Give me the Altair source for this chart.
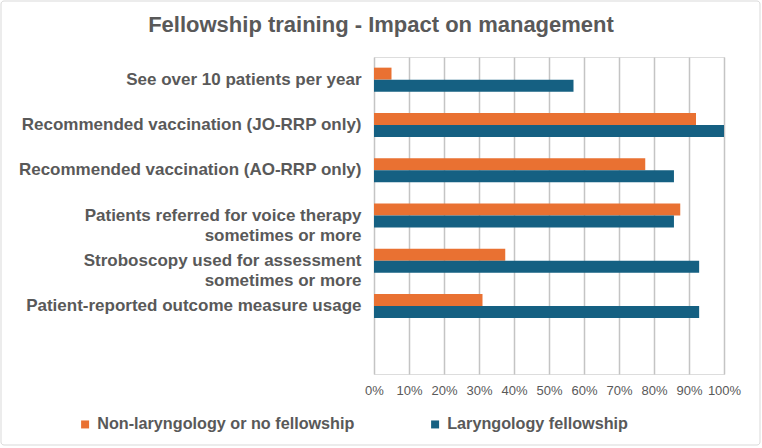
import altair as alt
import pandas as pd

# Survey items (top to bottom); "|" marks a line break in the axis label
categories = [
    "See over 10 patients per year",
    "Recommended vaccination (JO-RRP only)",
    "Recommended vaccination (AO-RRP only)",
    "Patients referred for voice therapy|sometimes or more",
    "Stroboscopy used for assessment|sometimes or more",
    "Patient-reported outcome measure usage",
]
series = ["Non-laryngology or no fellowship", "Laryngology fellowship"]
non_laryngology = [0.05, 0.92, 0.775, 0.875, 0.375, 0.31]
laryngology = [0.57, 1.00, 0.857, 0.857, 0.929, 0.929]
colors = ["#E97132", "#156082"]
x_ticks = [i / 10 for i in range(11)]

rows = []
for cat, a, b in zip(categories, non_laryngology, laryngology):
    rows.append({"item": cat, "group": series[0], "share": a})
    rows.append({"item": cat, "group": series[1], "share": b})
df = pd.DataFrame(rows)

# an empty trailing slot leaves space below the last item, as in the original layout
y_domain = categories + [" "]

FONT = "Liberation Sans"
GREY = "#595959"

bars = alt.Chart(df).mark_bar().encode(
    x=alt.X(
        "share:Q",
        scale=alt.Scale(domain=[0, 1], nice=False),
        axis=alt.Axis(
            values=x_ticks, format=".0%", title=None, domain=False, ticks=False,
            grid=True, gridColor="#c4c4c4", gridWidth=1.5, gridOpacity=1,
            labelFontSize=13, labelColor=GREY, labelPadding=10, labelFont=FONT,
            labelOverlap=False, labelFlush=False,
        ),
    ),
    y=alt.Y(
        "item:N",
        scale=alt.Scale(domain=y_domain, paddingInner=0, paddingOuter=0),
        axis=alt.Axis(
            title=None, domain=False, ticks=False, grid=False,
            labelExpr="split(datum.label, '|')", labelFontSize=17,
            labelFontWeight="bold", labelColor=GREY, labelFont=FONT,
            labelLimit=400, labelPadding=13, labelLineHeight=20,
        ),
    ),
    yOffset=alt.YOffset(
        "group:N",
        scale=alt.Scale(domain=series, paddingInner=0, paddingOuter=0.887),
    ),
    color=alt.Color(
        "group:N",
        scale=alt.Scale(domain=series, range=colors),
        legend=alt.Legend(
            title=None, orient="none", direction="horizontal",
            legendX=-297, legendY=359, symbolType="square", symbolSize=64,
            symbolStrokeWidth=0, labelFontSize=16.2, labelFontWeight="bold",
            labelColor=GREY, labelFont=FONT, columnPadding=72, padding=0,
            labelOffset=4, labelLimit=400,
        ),
    ),
)

# light frame around the whole chart
frame = alt.Chart(alt.Data(values=[{}])).mark_rect(
    fillOpacity=0, stroke="#d9d9d9", strokeWidth=1, cornerRadius=3
).encode(
    x=alt.value(-373), x2=alt.value(386),
    y=alt.value(-56), y2=alt.value(388),
)

chart = alt.layer(frame, bars).properties(
    width=350,
    height=317,
    autosize=alt.AutoSizeParams(type="none"),
    padding={"left": 374, "top": 57, "right": 38, "bottom": 74},
    title=alt.TitleParams(
        "Fellowship training - Impact on management",
        anchor="middle", frame="group", dx=-168, offset=-36,
        fontSize=22, fontWeight="bold", color=GREY, font=FONT,
    ),
).configure_view(stroke=None).configure(background="white")

chart.save("out.html", embed_options={"renderer": "svg", "actions": False})
